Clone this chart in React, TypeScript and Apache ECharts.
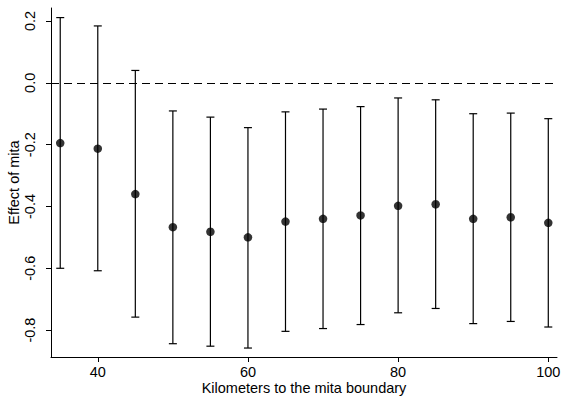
import React, { useEffect, useRef } from "react";
import * as echarts from "echarts";

const distances = [35, 40, 45, 50, 55, 60, 65, 70, 75, 80, 85, 90, 95, 100];
const effects = [-0.195, -0.213, -0.36, -0.467, -0.482, -0.5, -0.449, -0.44, -0.429, -0.398, -0.393, -0.44, -0.435, -0.453];
const upperCI = [0.211, 0.184, 0.04, -0.091, -0.111, -0.145, -0.094, -0.085, -0.077, -0.049, -0.055, -0.1, -0.098, -0.116];
const lowerCI = [-0.6, -0.608, -0.758, -0.844, -0.852, -0.858, -0.804, -0.795, -0.782, -0.744, -0.73, -0.779, -0.772, -0.79];
const xTicks = [40, 60, 80, 100];
const yTicks = [-0.8, -0.6, -0.4, -0.2, 0, 0.2];

export default function App() {
  const ref = useRef<HTMLDivElement>(null);
  useEffect(() => {
    if (!ref.current) return;
    const chart = echarts.init(ref.current, null, { renderer: "svg" });
    const font = "Liberation Sans, Arial, sans-serif";
    const fs = 14.5;
    chart.setOption({
      animation: false,
      grid: { left: 51, top: 8, right: 6, bottom: 46, outerBoundsMode: "none", containLabel: false },
      xAxis: {
        type: "value",
        min: 33.77,
        max: 101.16,
        name: "Kilometers to the mita boundary",
        nameLocation: "middle",
        nameGap: 23.5,
        nameMoveOverlap: false,
        nameTextStyle: { color: "#000000", fontSize: fs, fontFamily: font },
        splitLine: { show: false },
        axisLine: { show: true, onZero: false, lineStyle: { color: "#000", width: 1 } },
        axisTick: { show: true, length: 5, customValues: xTicks, lineStyle: { color: "#000" } },
        axisLabel: { customValues: xTicks, color: "#000", fontSize: fs, fontFamily: font, margin: 7 },
      },
      yAxis: {
        type: "value",
        min: -0.887,
        max: 0.242,
        name: "Effect of mita",
        nameLocation: "middle",
        nameGap: 30,
        nameMoveOverlap: false,
        nameRotate: 90,
        nameTextStyle: { color: "#000000", fontSize: fs, fontFamily: font },
        splitLine: { show: false },
        axisLine: { show: true, onZero: false, lineStyle: { color: "#000", width: 1 } },
        axisTick: { show: true, length: 5, customValues: yTicks, lineStyle: { color: "#000" } },
        axisLabel: {
          customValues: yTicks,
          rotate: 90,
          color: "#000",
          fontSize: fs,
          fontFamily: font,
          margin: 14,
          formatter: (v: number) => v.toFixed(1),
        },
      },
      series: [
        {
          type: "custom",
          data: distances.map((d, i) => [d, lowerCI[i], upperCI[i]]),
          renderItem: (params: any, api: any) => {
            const x = api.value(0);
            const lo = api.coord([x, api.value(1)]);
            const hi = api.coord([x, api.value(2)]);
            const hw = 4;
            const style = { stroke: "#000", lineWidth: 1.2 };
            return {
              type: "group",
              children: [
                { type: "line", shape: { x1: lo[0], y1: lo[1], x2: hi[0], y2: hi[1] }, style },
                { type: "line", shape: { x1: lo[0] - hw, y1: lo[1], x2: lo[0] + hw, y2: lo[1] }, style },
                { type: "line", shape: { x1: hi[0] - hw, y1: hi[1], x2: hi[0] + hw, y2: hi[1] }, style },
              ],
            };
          },
          z: 2,
        },
        {
          type: "scatter",
          data: distances.map((d, i) => [d, effects[i]]),
          symbol: "circle",
          symbolSize: 8.5,
          itemStyle: { color: "#000" },
          z: 3,
          markLine: {
            silent: true,
            symbol: "none",
            label: { show: false },
            lineStyle: { color: "#000", type: [8, 5], width: 1.2 },
            data: [{ yAxis: 0 }],
          },
        },
      ],
    });
    return () => chart.dispose();
  }, []);
  return <div ref={ref} style={{ width: 563, height: 403, position: "absolute", left: 0, top: 0 }} />;
}
